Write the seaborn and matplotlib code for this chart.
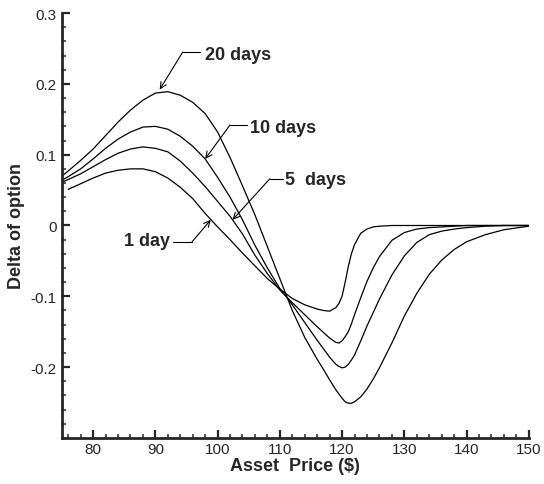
import matplotlib
matplotlib.use("Agg")
import matplotlib.pyplot as plt
import matplotlib.ticker as mticker
import numpy as np
import pandas as pd
import seaborn as sns

#%% Data
asset_price = [75, 76, 78, 80, 82, 84, 86, 88, 90, 92, 94, 96, 98, 100, 102, 104, 106,
               108, 110, 112, 114, 116, 117, 118, 119, 119.5, 120, 120.5, 121, 121.5,
               122, 123, 124, 125, 126, 128, 130, 132, 134, 136, 138, 140, 143, 146, 150]

delta_20d = [0.070, 0.077, 0.092, 0.108, 0.127, 0.146, 0.163, 0.177, 0.187, 0.189, 0.184,
             0.174, 0.158, 0.132, 0.096, 0.056, 0.015, -0.030, -0.075, -0.120, -0.158,
             -0.189, -0.203, -0.218, -0.232, -0.238, -0.244, -0.249, -0.251, -0.251,
             -0.249, -0.242, -0.231, -0.217, -0.201, -0.166, -0.128, -0.096, -0.069,
             -0.049, -0.034, -0.023, -0.013, -0.006, -0.001]

delta_10d = [0.064, 0.069, 0.080, 0.094, 0.109, 0.122, 0.132, 0.139, 0.140, 0.136, 0.126,
             0.112, 0.094, 0.068, 0.040, 0.008, -0.028, -0.060, -0.089, -0.112, -0.137,
             -0.162, -0.174, -0.186, -0.196, -0.199, -0.201, -0.200, -0.196, -0.190,
             -0.183, -0.163, -0.142, -0.123, -0.104, -0.070, -0.043, -0.024, -0.013,
             -0.008, -0.005, -0.003, -0.001, 0.000, 0.000]

delta_5d = [0.061, 0.065, 0.073, 0.083, 0.093, 0.102, 0.108, 0.111, 0.109, 0.104, 0.091,
            0.074, 0.055, 0.034, 0.013, -0.012, -0.042, -0.068, -0.091, -0.109, -0.126,
            -0.143, -0.151, -0.159, -0.165, -0.166, -0.163, -0.157, -0.150, -0.139,
            -0.126, -0.102, -0.079, -0.060, -0.044, -0.021, -0.010, -0.005, -0.003,
            -0.002, -0.001, 0.000, 0.000, 0.000, 0.000]

delta_1d = [np.nan, 0.051, 0.059, 0.067, 0.074, 0.078, 0.080, 0.080, 0.076, 0.067, 0.054,
            0.038, 0.017, -0.002, -0.020, -0.039, -0.057, -0.075, -0.090, -0.103, -0.112,
            -0.118, -0.120, -0.121, -0.116, -0.110, -0.100, -0.080, -0.058, -0.040,
            -0.027, -0.011, -0.005, -0.002, -0.001, 0.000, 0.000, 0.000, 0.000,
            0.000, 0.000, 0.000, 0.000, 0.000, 0.000]

series_names = ['20 days', '10 days', '5  days', '1 day']

# label anchor (x, y), horizontal leader start/end x, leader y, arrow tip (x, y)
label_pos = [(98.0, 0.241), (105.2, 0.139), (110.8, 0.065), (92.3, -0.021)]
label_ha = ['left', 'left', 'left', 'right']
leader_x = [(97.2, 94.4), (104.7, 102.0), (110.5, 108.4), (92.8, 95.9)]
leader_y = [0.245, 0.142, 0.066, -0.023]
arrow_tip = [(90.7, 0.192), (98.0, 0.094), (102.4, 0.008), (98.9, 0.008)]

x_ticks = [80, 90, 100, 110, 120, 130, 140, 150]
y_ticks = [-0.2, -0.1, 0, 0.1, 0.2, 0.3]

#%% Long-form table
frames = []
for name, vals in zip(series_names, [delta_20d, delta_10d, delta_5d, delta_1d]):
    frames.append(pd.DataFrame({'price': asset_price, 'delta': vals, 'period': name}))
data = pd.concat(frames).dropna()

#%% Figure
sns.set_style("ticks")
plt.rcParams['font.family'] = ['Liberation Sans', 'DejaVu Sans']

fig = plt.figure(figsize=(5.44, 4.85), dpi=100)
ax = fig.add_axes([0.114, 0.095, 0.858, 0.876])

sns.lineplot(data=data, x='price', y='delta', hue='period', palette=['black'] * 4,
             linewidth=0.9, legend=False, ax=ax, sort=True)

# annotations with leader lines
for name, (tx, ty), ha, (lx0, lx1), ly, (ax_, ay) in zip(series_names, label_pos, label_ha,
                                                          leader_x, leader_y, arrow_tip):
    ax.text(tx, ty, name, ha=ha, va='center', fontsize=13, fontweight='bold')
    ax.plot([lx0, lx1], [ly, ly], color='black', linewidth=0.8)
    ax.annotate('', xy=(ax_, ay), xytext=(lx1, ly),
                arrowprops=dict(arrowstyle='->', color='black', lw=0.8,
                                mutation_scale=11, shrinkA=0, shrinkB=0))

ax.set_xlim(75, 150)
ax.set_ylim(-0.3, 0.3)
ax.set_xticks(x_ticks)
ax.set_yticks(y_ticks)
ax.xaxis.set_minor_locator(mticker.MultipleLocator(2))
ax.yaxis.set_minor_locator(mticker.MultipleLocator(0.02))
ax.yaxis.set_major_formatter(mticker.FuncFormatter(lambda v, p: '%g' % round(v, 2)))

ax.set_xlabel('Asset  Price ($)', fontsize=13, fontweight='bold', labelpad=1)
ax.set_ylabel('Delta of option', fontsize=13, fontweight='bold', labelpad=4)

sns.despine(ax=ax)
for side in ['left', 'bottom']:
    ax.spines[side].set_linewidth(2.0)
ax.tick_params(which='major', direction='in', length=6, width=1.6, labelsize=11, pad=4)
ax.tick_params(which='minor', direction='in', length=3, width=1.1)
ax.tick_params(axis='x', which='major', pad=3)

fig.savefig('out.png', dpi=100)
